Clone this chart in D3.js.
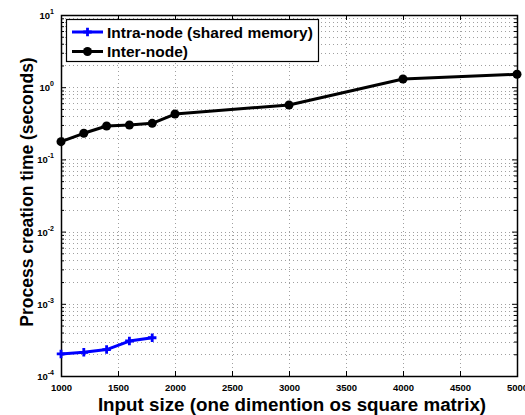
<!DOCTYPE html>
<html>
<head>
<meta charset="utf-8">
<script src="https://cdn.jsdelivr.net/npm/d3@7"></script>
<style>
  body { margin: 0; background: #fff; }
  svg { display: block; }
  text { font-family: "Liberation Sans", Arial, Helvetica, sans-serif; }
</style>
</head>
<body>
<svg id="chart" width="525" height="415"></svg>
<script>
// Process creation time vs. matrix size
const inputSizes = [1000, 1200, 1400, 1600, 1800, 2000, 3000, 4000, 5000];
const intraSizes = [1000, 1200, 1400, 1600, 1800];
const intraTimes = [0.000202, 0.000213, 0.000232, 0.000305, 0.000339];
const interTimes = [0.176, 0.23, 0.29, 0.30, 0.316, 0.425, 0.567, 1.30, 1.51];
const xTicks = [1000, 1500, 2000, 2500, 3000, 3500, 4000, 4500, 5000];
const yDecades = [-4, -3, -2, -1, 0, 1];
const seriesNames = ["Intra-node (shared memory)", "Inter-node)"];

const svg = d3.select("#chart");
const m = { left: 61, right: 517, top: 15, bottom: 376 };

const x = d3.scaleLinear().domain([1000, 5000]).range([m.left, m.right]);
const y = d3.scaleLog().domain([1e-4, 10]).range([m.bottom, m.top]);

// minor log values
const minorVals = [];
for (let e = -4; e < 1; e++) for (let k = 2; k <= 9; k++) minorVals.push(k * Math.pow(10, e));
const majorVals = yDecades.map(e => Math.pow(10, e));

const grid = svg.append("g").attr("stroke", "#888").attr("stroke-width", 0.8)
  .attr("stroke-dasharray", "1,3");
grid.selectAll("line.gy").data(minorVals.concat(majorVals.slice(1, -1))).join("line")
  .attr("x1", m.left).attr("x2", m.right)
  .attr("y1", d => Math.round(y(d)) + 0.5).attr("y2", d => Math.round(y(d)) + 0.5);
grid.selectAll("line.gx").data(xTicks.slice(1, -1)).join("line")
  .attr("y1", m.top).attr("y2", m.bottom)
  .attr("x1", d => Math.round(x(d)) + 0.5).attr("x2", d => Math.round(x(d)) + 0.5);

// axes with inward ticks on all sides
const tk = 5, tkMinor = 3;
const axB = d3.axisBottom(x).tickValues(xTicks).tickSize(-tk).tickFormat(d => d).tickPadding(8);
const axT = d3.axisTop(x).tickValues(xTicks).tickSize(-tk).tickFormat("");
const axL = d3.axisLeft(y).tickValues(majorVals).tickSize(-tk).tickFormat("");
const axR = d3.axisRight(y).tickValues(majorVals).tickSize(-tk).tickFormat("");
const axLm = d3.axisLeft(y).tickValues(minorVals).tickSize(-tkMinor).tickFormat("");
const axRm = d3.axisRight(y).tickValues(minorVals).tickSize(-tkMinor).tickFormat("");

function styleAxis(g) {
  g.select(".domain").remove();
  g.selectAll(".tick line").attr("stroke", "#000").attr("stroke-width", 1);
}
svg.append("g").attr("transform", `translate(0,${m.bottom})`).call(axB).call(styleAxis)
  .selectAll("text").attr("font-size", 9.5).attr("font-weight", "bold").attr("fill", "#000");
svg.append("g").attr("transform", `translate(0,${m.top})`).call(axT).call(styleAxis);
svg.append("g").attr("transform", `translate(${m.left},0)`).call(axL).call(styleAxis);
svg.append("g").attr("transform", `translate(${m.right},0)`).call(axR).call(styleAxis);
svg.append("g").attr("transform", `translate(${m.left},0)`).call(axLm).call(styleAxis);
svg.append("g").attr("transform", `translate(${m.right},0)`).call(axRm).call(styleAxis);

// y tick labels as 10^n
const yl = svg.append("g");
yDecades.forEach(e => {
  const t = yl.append("text").attr("x", m.left - 7).attr("y", y(Math.pow(10, e)) + 4)
    .attr("text-anchor", "end").attr("font-weight", "bold").attr("font-size", 9.5);
  t.append("tspan").text("10");
  t.append("tspan").attr("dy", -5).attr("font-size", 7).text(e);
});

// plot frame
svg.append("rect").attr("x", m.left + 0.5).attr("y", m.top + 0.5)
  .attr("width", m.right - m.left).attr("height", m.bottom - m.top)
  .attr("fill", "none").attr("stroke", "#000").attr("stroke-width", 1.5);

// series
const interData = inputSizes.map((s, i) => [s, interTimes[i]]);
const intraData = intraSizes.map((s, i) => [s, intraTimes[i]]);
const line = d3.line().x(d => x(d[0])).y(d => y(d[1]));

svg.append("path").datum(interData).attr("d", line)
  .attr("fill", "none").attr("stroke", "#000").attr("stroke-width", 3).attr("stroke-linejoin", "round");
svg.selectAll("circle.inter").data(interData).join("circle")
  .attr("cx", d => x(d[0])).attr("cy", d => y(d[1])).attr("r", 4.5).attr("fill", "#000");

svg.append("path").datum(intraData).attr("d", line)
  .attr("fill", "none").attr("stroke", "#0000ff").attr("stroke-width", 3).attr("stroke-linejoin", "round");
const plus = d3.symbol().type(d3.symbolCross).size(40);
svg.selectAll("path.intra").data(intraData).join("path")
  .attr("transform", d => `translate(${x(d[0])},${y(d[1])})`)
  .attr("d", plus).attr("fill", "#0000ff");

// legend
const lg = svg.append("g");
lg.append("rect").attr("x", 66.5).attr("y", 19.5).attr("width", 252).attr("height", 42)
  .attr("fill", "#fff").attr("stroke", "#000").attr("stroke-width", 1.2);
const rows = [
  { name: seriesNames[0], color: "#0000ff", y: 32, mark: "plus" },
  { name: seriesNames[1], color: "#000", y: 51.5, mark: "dot" }
];
rows.forEach(r => {
  lg.append("line").attr("x1", 72).attr("x2", 103).attr("y1", r.y).attr("y2", r.y)
    .attr("stroke", r.color).attr("stroke-width", 3);
  if (r.mark === "dot") lg.append("circle").attr("cx", 87.5).attr("cy", r.y).attr("r", 4.5).attr("fill", r.color);
  else lg.append("path").attr("transform", `translate(87.5,${r.y})`).attr("d", plus).attr("fill", r.color);
  lg.append("text").attr("x", 107).attr("y", r.y + 5.5).attr("font-size", 15.5)
    .attr("font-weight", "bold").text(r.name);
});

// axis titles
svg.append("text").attr("x", 292).attr("y", 411).attr("text-anchor", "middle")
  .attr("font-size", 18.8).attr("font-weight", "bold").text("Input size (one dimention os square matrix)");
svg.append("text").attr("transform", `translate(33,192) rotate(-90)`)
  .attr("text-anchor", "middle").attr("font-size", 17.5).attr("font-weight", "bold")
  .text("Process creation time (seconds)");
</script>
</body>
</html>
